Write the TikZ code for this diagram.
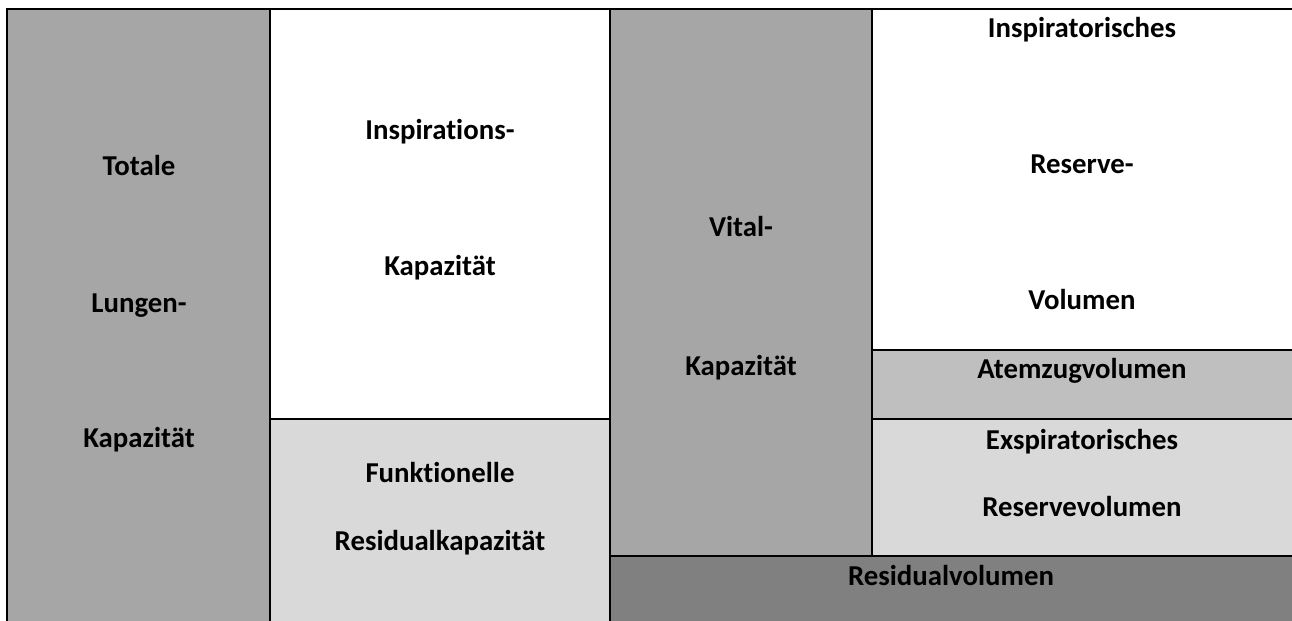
\documentclass[tikz,border=0pt]{standalone}
\usepackage{fontspec}
\setmainfont{Carlito}[Ligatures=NoCommon]
\begin{document}
\begin{tikzpicture}[x=0.5pt,y=-0.5pt,
  cell/.style={draw=black,line width=1.1pt},
  lbl/.style={anchor=base,inner sep=0pt,font=\fontsize{14.4pt}{17pt}\selectfont\bfseries}]
\definecolor{gMid}{HTML}{A6A6A6}
\definecolor{gLight}{HTML}{D9D9D9}
\definecolor{gSoft}{HTML}{BFBFBF}
\definecolor{gDark}{HTML}{808080}
\useasboundingbox (0,0) rectangle (1292,621);
\clip (0,0) rectangle (1292,621);
% cells (right and bottom edges run past the page)
\path[cell,fill=gMid]   (7,9)     rectangle (270,640);
\path[cell,fill=white]  (270,9)   rectangle (610,419);
\path[cell,fill=gLight] (270,419) rectangle (610,640);
\path[cell,fill=gMid]   (610,9)   rectangle (872,556);
\path[cell,fill=white]  (872,9)   rectangle (1310,350);
\path[cell,fill=gSoft]  (872,350) rectangle (1310,419);
\path[cell,fill=gLight] (872,419) rectangle (1310,556);
\path[cell,fill=gDark]  (610,556) rectangle (1310,640);
% total lung capacity
\node[lbl] (tlc1) at (139,175) {Totale};
\node[lbl] (tlc2) at (139,312) {Lungen-};
\node[lbl] (tlc3) at (139,447) {Kapazität};
% inspiratory capacity
\node[lbl] (ic1) at (440,139) {Inspirations-};
\node[lbl] (ic2) at (440,275) {Kapazität};
% functional residual capacity
\node[lbl] (frc1) at (440,482) {Funktionelle};
\node[lbl] (frc2) at (440,550) {Residualkapazität};
% vital capacity
\node[lbl] (vc1) at (741,236) {Vital-};
\node[lbl] (vc2) at (741,375) {Kapazität};
% inspiratory reserve volume
\node[lbl] (irv1) at (1082,37)  {Inspiratorisches};
\node[lbl] (irv2) at (1082,173) {Reserve-};
\node[lbl] (irv3) at (1082,309) {Volumen};
% tidal volume
\node[lbl] (tv) at (1082,378) {Atemzugvolumen};
% expiratory reserve volume
\node[lbl] (erv1) at (1082,449) {Exspiratorisches};
\node[lbl] (erv2) at (1082,516) {Reservevolumen};
% residual volume
\node[lbl] (rv) at (951,585) {Residualvolumen};
\end{tikzpicture}
\end{document}
